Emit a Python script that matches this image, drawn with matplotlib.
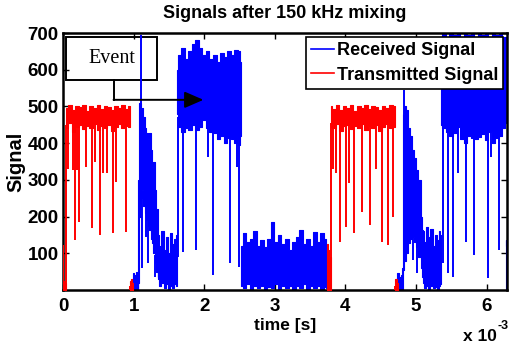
import numpy as np
import matplotlib
matplotlib.use('Agg')
import matplotlib.pyplot as plt
from matplotlib.patches import Rectangle, FancyArrowPatch
from matplotlib.lines import Line2D

# ---------------- data (time in ms, values in signal units) ----------------
# Received signal: noisy bands (time knots, upper envelope, lower envelope)
rx_a_t = [0.98, 1.00, 1.02, 1.04, 1.06]
rx_a_hi = [30, 45, 40, 50, 35]
rx_a_lo = [0, 5, 0, 10, 0]

rx_b_t = [1.06, 1.07, 1.09, 1.11, 1.13, 1.15, 1.17, 1.19, 1.21, 1.23, 1.25, 1.27, 1.29, 1.31, 1.33, 1.35]
rx_b_hi = [40, 300, 510, 430, 495, 470, 440, 428, 410, 428, 380, 336, 350, 272, 220, 163]
rx_b_lo = [0, 20, 200, 250, 272, 230, 209, 190, 175, 163, 140, 128, 100, 73, 50, 36]

rx_c_t = [1.35, 1.38, 1.41, 1.44, 1.47, 1.50, 1.53, 1.56, 1.59, 1.61]
rx_c_hi = [150, 120, 160, 110, 145, 100, 155, 125, 140, 150]
rx_c_lo = [30, 10, 20, 5, 15, 0, 10, 5, 15, 10]

rx_d_t = [1.61, 1.65, 1.70, 1.75, 1.80, 1.85, 1.90, 1.95, 2.00, 2.05, 2.10, 2.15, 2.20, 2.25, 2.30, 2.35, 2.40, 2.45, 2.50, 2.52]
rx_d_hi = [600, 640, 660, 630, 650, 670, 680, 660, 640, 650, 630, 640, 620, 645, 635, 650, 640, 655, 650, 620]
rx_d_lo = [480, 445, 430, 440, 436, 450, 436, 445, 463, 440, 430, 427, 410, 420, 400, 415, 410, 400, 395, 420]

rx_e_t = [2.52, 2.57, 2.62, 2.67, 2.72, 2.77, 2.82, 2.87, 2.92, 2.97, 3.02, 3.07, 3.12, 3.17, 3.22, 3.27, 3.32, 3.37, 3.42, 3.47, 3.52, 3.57, 3.62, 3.67, 3.72, 3.74]
rx_e_hi = [120, 155, 130, 140, 160, 120, 135, 118, 140, 186, 130, 150, 125, 140, 110, 130, 145, 163, 125, 140, 120, 159, 130, 155, 140, 100]
rx_e_lo = [10, 5, 15, 0, 10, 5, 12, 0, 8, 5, 15, 3, 10, 5, 12, 0, 10, 5, 15, 2, 10, 5, 12, 0, 8, 5]

rx_f_t = [4.72, 4.75, 4.78, 4.80]
rx_f_hi = [30, 46, 36, 40]
rx_f_lo = [0, 5, 0, 10]

rx_g_t = [4.80, 4.82, 4.84, 4.87, 4.90, 4.93, 4.96, 4.99, 5.02, 5.05, 5.08, 5.10]
rx_g_hi = [60, 480, 500, 490, 440, 420, 381, 360, 327, 300, 200, 163]
rx_g_lo = [0, 54, 80, 100, 128, 140, 145, 130, 118, 90, 60, 36]

rx_h_t = [5.10, 5.13, 5.16, 5.19, 5.22, 5.25, 5.28, 5.31, 5.34, 5.35]
rx_h_hi = [160, 130, 172, 145, 165, 120, 150, 135, 160, 150]
rx_h_lo = [20, 5, 10, 0, 12, 5, 8, 0, 10, 15]

rx_i_t = [5.35, 5.40, 5.45, 5.50, 5.55, 5.60, 5.65, 5.70, 5.75, 5.80, 5.85, 5.90, 5.95, 6.00, 6.05, 6.10, 6.15, 6.20, 6.25, 6.27]
rx_i_hi = [690, 700, 690, 700, 695, 700, 690, 700, 695, 700, 690, 700, 695, 700, 690, 700, 695, 700, 690, 690]
rx_i_lo = [450, 440, 430, 420, 428, 445, 410, 400, 420, 415, 410, 418, 425, 409, 430, 400, 415, 420, 440, 455]

rx_j_t = [6.27, 6.29, 6.31]
rx_j_hi = [136, 120, 130]
rx_j_lo = [0, 0, 0]

# Received signal: isolated drops and peaks (time, value)
rx_drop_t = [1.075, 1.12, 1.17, 1.20, 1.30,
             1.63, 1.70, 1.88, 2.05, 2.125, 2.36, 2.46, 2.50,
             4.96, 5.01,
             5.38, 5.45, 5.525, 5.60, 5.71, 5.82, 6.02, 6.06, 6.18]
rx_drop_v = [35, 60, 145, 73, 35,
             91, 104, 109, 363, 41, 73, 336, 64,
             82, 46,
             73, 46, 35, 318, 130, 95, 33, 362, 109]
rx_peak_t = [1.11, 4.83]
rx_peak_v = [695, 545]

# Transmitted signal bands
tx_a_t = [0.0, 0.02, 0.04]
tx_a_hi = [20, 25, 20]
tx_a_lo = [0, 0, 0]

tx_b_t = [0.04, 0.10, 0.15, 0.20, 0.25, 0.30, 0.35, 0.40, 0.45, 0.50, 0.55, 0.60, 0.65, 0.70, 0.75, 0.80, 0.85, 0.90, 0.95]
tx_b_hi = [495, 505, 490, 500, 498, 503, 488, 500, 495, 505, 492, 500, 498, 490, 502, 496, 505, 493, 500]
tx_b_lo = [440, 455, 430, 445, 450, 438, 448, 442, 452, 436, 447, 440, 450, 432, 445, 452, 440, 448, 445]

tx_c_t = [0.95, 0.97, 0.99]
tx_c_hi = [25, 30, 20]
tx_c_lo = [0, 0, 0]

tx_d_t = [3.74, 3.76, 3.79]
tx_d_hi = [125, 110, 90]
tx_d_lo = [0, 0, 0]

tx_e_t = [3.79, 3.84, 3.89, 3.94, 3.99, 4.04, 4.09, 4.14, 4.19, 4.24, 4.29, 4.34, 4.39, 4.44, 4.49, 4.54, 4.59, 4.64, 4.70]
tx_e_hi = [500, 493, 505, 490, 500, 497, 503, 488, 500, 495, 505, 492, 500, 498, 490, 502, 496, 505, 500]
tx_e_lo = [445, 440, 452, 432, 446, 450, 438, 447, 441, 452, 436, 447, 440, 450, 433, 445, 452, 440, 445]

tx_f_t = [4.70, 4.72, 4.74]
tx_f_hi = [25, 30, 20]
tx_f_lo = [0, 0, 0]

tx_drop_t = [0.04, 0.074, 0.145, 0.173, 0.20, 0.23, 0.32, 0.41, 0.45, 0.53, 0.565, 0.617, 0.71, 0.745, 0.89, 0.95,
             3.79, 3.83, 3.87, 3.93, 4.01, 4.05, 4.12, 4.23, 4.35, 4.44, 4.52, 4.61, 4.67, 4.70]
tx_drop_v = [0, 330, 327, 136, 327, 185, 335, 168, 348, 150, 318, 318, 155, 294, 158, 0,
             0, 330, 318, 130, 172, 291, 155, 213, 177, 330, 130, 122, 200, 0]
tx_peak_t = [0.005]
tx_peak_v = [122]

x_ticks = [0, 1, 2, 3, 4, 5, 6]
y_ticks = [100, 200, 300, 400, 500, 600, 700]

# ---------------- plotting ----------------
plt.rcParams['font.family'] = ['Liberation Sans', 'DejaVu Sans']
plt.rcParams['font.weight'] = 'bold'

fig = plt.figure(figsize=(5.09, 3.47), dpi=100)
ax = fig.add_axes([63 / 509, 1 - 290 / 347, 444 / 509, 257 / 347])

BLUE = (0, 0, 1)
RED = (1, 0, 0)

rx_segments = [(rx_a_t, rx_a_hi, rx_a_lo), (rx_b_t, rx_b_hi, rx_b_lo), (rx_c_t, rx_c_hi, rx_c_lo),
               (rx_d_t, rx_d_hi, rx_d_lo), (rx_e_t, rx_e_hi, rx_e_lo), (rx_f_t, rx_f_hi, rx_f_lo),
               (rx_g_t, rx_g_hi, rx_g_lo), (rx_h_t, rx_h_hi, rx_h_lo), (rx_i_t, rx_i_hi, rx_i_lo),
               (rx_j_t, rx_j_hi, rx_j_lo)]
tx_segments = [(tx_a_t, tx_a_hi, tx_a_lo), (tx_b_t, tx_b_hi, tx_b_lo), (tx_c_t, tx_c_hi, tx_c_lo),
               (tx_d_t, tx_d_hi, tx_d_lo), (tx_e_t, tx_e_hi, tx_e_lo), (tx_f_t, tx_f_hi, tx_f_lo)]


def draw_signal(segments, drop_t, drop_v, peak_t, peak_v, color, z):
    all_t = np.concatenate([np.asarray(s[0], float) for s in segments])
    all_hi = np.concatenate([np.asarray(s[1], float) for s in segments])
    all_lo = np.concatenate([np.asarray(s[2], float) for s in segments])
    for t, hi, lo in segments:
        ax.fill_between(t, lo, hi, step='mid', facecolor=color, edgecolor=color, lw=0.8, zorder=z)
    tops = np.interp(drop_t, all_t, all_lo) + 10
    ax.vlines(drop_t, drop_v, tops, color=color, lw=1.4, zorder=z)
    bases = np.interp(peak_t, all_t, all_hi) - 10
    ax.vlines(peak_t, bases, peak_v, color=color, lw=1.4, zorder=z)


draw_signal(rx_segments, rx_drop_t, rx_drop_v, rx_peak_t, rx_peak_v, BLUE, 2)
draw_signal(tx_segments, tx_drop_t, tx_drop_v, tx_peak_t, tx_peak_v, RED, 3)

ax.set_xlim(0, 6.29)
ax.set_ylim(0, 700)
ax.set_xticks(x_ticks)
ax.set_xticklabels([str(v) for v in x_ticks])
ax.set_yticks(y_ticks)
ax.set_yticklabels([str(v) for v in y_ticks])
ax.tick_params(direction='in', top=True, right=True, length=4, width=1.0,
               labelsize=13.5, pad=3)
ax.tick_params(axis='x', pad=6)
for sp in ax.spines.values():
    sp.set_linewidth(1.8)

ax.set_title('Signals after 150 kHz mixing', fontsize=13, fontweight='bold', pad=11)
ax.set_xlabel('time [s]', fontsize=12.5, fontweight='bold', labelpad=2)
ax.set_ylabel('Signal', fontsize=14.5, fontweight='bold', labelpad=2)
fig.text(463 / 509, 1 - 341 / 347, 'x 10', fontsize=12.5, fontweight='bold', ha='left', va='baseline')
fig.text(498 / 509, 1 - 329 / 347, '-3', fontsize=9, fontweight='bold', ha='left', va='baseline')

# Event annotation
ax.add_patch(Rectangle((0.045, 571), 1.285, 118, facecolor='none', edgecolor='black',
                       lw=1.4, zorder=1))
ax.text(0.69, 630, 'Event', family=['Liberation Serif', 'DejaVu Serif'], fontweight='normal',
        fontsize=14.5, ha='center', va='center', zorder=1)
ax.plot([0.716, 0.716], [571, 518], color='black', lw=1.4, zorder=6)
ax.add_patch(FancyArrowPatch((0.716, 518), (1.99, 518), arrowstyle='-|>,head_length=1.15,head_width=0.5',
                             mutation_scale=10, color='black', lw=1.4, shrinkA=0, shrinkB=0, zorder=6))

handles = [Line2D([0], [0], color=BLUE, lw=1.2), Line2D([0], [0], color=RED, lw=1.2)]
leg = ax.legend(handles, ['Received Signal', 'Transmitted Signal'], loc='upper right',
                fontsize=13, fancybox=False, framealpha=1, edgecolor='black',
                handlelength=1.25, handletextpad=0.15, borderpad=0.3, labelspacing=0.42,
                borderaxespad=0.2)
leg.get_frame().set_linewidth(1.2)
leg.set_zorder(10)

fig.savefig('out.png', dpi=100)
